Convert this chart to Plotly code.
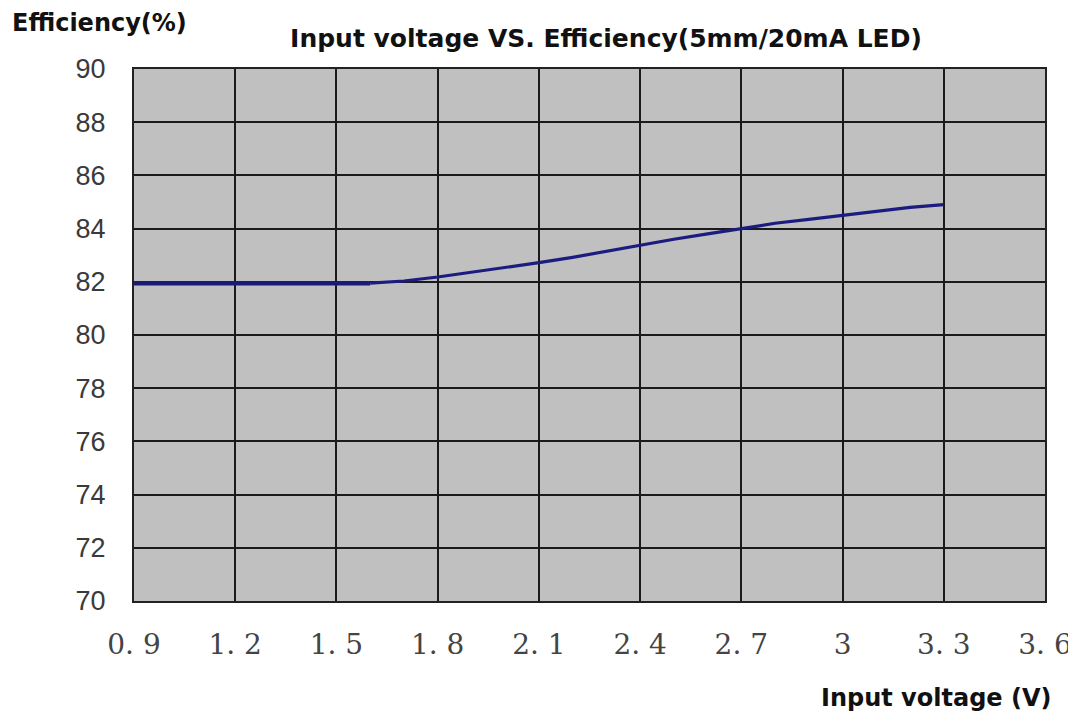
import plotly.graph_objects as go

voltage = [0.9, 1.0, 1.2, 1.4, 1.6, 1.7, 1.8, 1.9, 2.0, 2.1, 2.2, 2.3, 2.4, 2.5, 2.6, 2.7, 2.8, 2.9, 3.0, 3.1, 3.2, 3.3]
efficiency = [81.95, 81.95, 81.95, 81.95, 81.95, 82.03, 82.18, 82.35, 82.52, 82.72, 82.92, 83.15, 83.4, 83.6, 83.8, 84.0, 84.2, 84.35, 84.5, 84.65, 84.8, 84.9]

x_tickvals = [0.9, 1.2, 1.5, 1.8, 2.1, 2.4, 2.7, 3.0, 3.3, 3.6]
x_ticktext = ["0. 9", "1. 2", "1. 5", "1. 8", "2. 1", "2. 4", "2. 7", "3", "3. 3", "3. 6"]
y_tickvals = [70, 72, 74, 76, 78, 80, 82, 84, 86, 88, 90]

FLAT_END = 5  # points in the flat (thicker) part of the curve

fig = go.Figure()
fig.add_trace(go.Scatter(x=voltage[:FLAT_END], y=efficiency[:FLAT_END], mode="lines",
                         line=dict(color="#1a1a78", width=4.5), hoverinfo="skip"))
fig.add_trace(go.Scatter(x=voltage[FLAT_END - 1:], y=efficiency[FLAT_END - 1:], mode="lines",
                         line=dict(color="#1c1c80", width=3.2), hoverinfo="skip"))

fig.update_layout(
    width=1076, height=717,
    margin=dict(l=126, r=36, t=61, b=124),
    paper_bgcolor="white", plot_bgcolor="#c0c0c0",
    showlegend=False,
    title=dict(text="<b>Input voltage VS. Efficiency(5mm/20mA LED)</b>",
               x=(605 - 7) / 1076, xanchor="center", y=1 - (37 - 7) / 717, yanchor="middle",
               font=dict(family="DejaVu Sans, Verdana, sans-serif", size=25, color="#111")),
    annotations=[
        dict(text="<b>Efficiency(%)</b>", xref="paper", yref="paper",
             x=-124 / 914, y=1 + 46 / 532, xanchor="left", yanchor="middle", showarrow=False,
             font=dict(family="DejaVu Sans, Verdana, sans-serif", size=24, color="#111")),
        dict(text="<b>Input voltage (V)</b>", xref="paper", yref="paper",
             x=1 + 8 / 914, y=-97 / 532, xanchor="right", yanchor="middle", showarrow=False,
             font=dict(family="DejaVu Sans, Verdana, sans-serif", size=24, color="#111")),
    ],
)
fig.update_xaxes(range=[0.9, 3.6], tickvals=x_tickvals, ticktext=x_ticktext,
                 showgrid=True, gridcolor="#1a1a1a", gridwidth=2,
                 showline=True, linecolor="#222", linewidth=2, mirror=True,
                 ticks="", ticklabelstandoff=17, zeroline=False,
                 tickfont=dict(family="DejaVu Serif, Liberation Serif, serif", size=28, color="#444"))
fig.update_yaxes(range=[70, 90], tickvals=y_tickvals,
                 showgrid=True, gridcolor="#1a1a1a", gridwidth=2,
                 showline=True, linecolor="#222", linewidth=2, mirror=True,
                 ticks="", ticklabelstandoff=21, zeroline=False,
                 tickfont=dict(family="Liberation Sans, Arial, sans-serif", size=27, color="#3a3a3a"))

fig.write_html("out.html")
